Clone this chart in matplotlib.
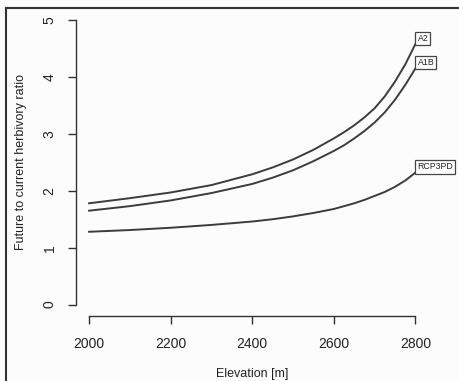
import numpy as np
import matplotlib
matplotlib.use('Agg')
from matplotlib import pyplot as plt
from matplotlib.lines import Line2D

plt.rcParams['font.family'] = ['Liberation Sans', 'DejaVu Sans']

# values
elevation = [2000, 2100, 2200, 2300, 2400, 2450, 2500, 2550, 2600, 2625, 2650, 2675,
             2700, 2725, 2750, 2775, 2800]
a2 = [1.78, 1.87, 1.97, 2.10, 2.29, 2.41, 2.55, 2.72, 2.92, 3.03, 3.15, 3.29,
      3.45, 3.66, 3.92, 4.22, 4.58]
a1b = [1.65, 1.73, 1.83, 1.96, 2.12, 2.23, 2.36, 2.52, 2.70, 2.80, 2.92, 3.05,
       3.20, 3.38, 3.60, 3.86, 4.15]
rcp3pd = [1.28, 1.31, 1.35, 1.40, 1.46, 1.50, 1.55, 1.61, 1.68, 1.73, 1.78, 1.84,
          1.91, 1.98, 2.07, 2.18, 2.32]
names = ["A2", "A1B", "RCP3PD"]
xticks = [2000, 2200, 2400, 2600, 2800]
yticks = [0, 1, 2, 3, 4, 5]

fig = plt.figure(figsize=(4.59, 3.81), dpi=100, facecolor='#fcfcfc')
ax = fig.add_axes([0.1656, 0.1706, 0.768, 0.8068])
ax.set_facecolor('#fcfcfc')

line_col = '#3c3c3c'
for series, name in zip([a2, a1b, rcp3pd], names):
    ax.plot(elevation, series, color=line_col, lw=1.4, solid_joinstyle='round')
    ax.text(elevation[-1] + 5, series[-1] + 0.02, name, fontsize=6.3, ha='left', va='bottom',
            color='#222222',
            bbox=dict(boxstyle='square,pad=0.25', fc='white', ec='#444444', lw=0.9))

ax.set_xlim(1968, 2832)
ax.set_ylim(-0.2, 5.2)
ax.set_xticks(xticks)
ax.set_yticks(yticks)
ax.set_yticklabels([str(t) for t in yticks], rotation=90, va='center')

for s in ['top', 'right']:
    ax.spines[s].set_visible(False)
ax.spines['left'].set_bounds(0, 5)
ax.spines['bottom'].set_bounds(2000, 2800)
for s in ['left', 'bottom']:
    ax.spines[s].set_color('#333333')
    ax.spines[s].set_linewidth(1.0)
ax.tick_params(direction='out', length=6, width=1.0, color='#333333', labelsize=10,
               labelcolor='#222222')
ax.tick_params(axis='x', pad=9)
ax.tick_params(axis='y', pad=8)

ax.set_xlabel("Elevation [m]", fontsize=9, color='#222222', labelpad=12)
ax.set_ylabel("Future to current herbivory ratio", fontsize=9, color='#222222', labelpad=11)

# image frame (left and top edges)
fig.add_artist(Line2D([6 / 459, 6 / 459], [0, 1 - 8 / 381], transform=fig.transFigure,
                      color='#333333', lw=1.5))
fig.add_artist(Line2D([6 / 459, 1], [1 - 8 / 381, 1 - 8 / 381], transform=fig.transFigure,
                      color='#333333', lw=1.5))

plt.savefig('out.png', dpi=100, facecolor=fig.get_facecolor())
